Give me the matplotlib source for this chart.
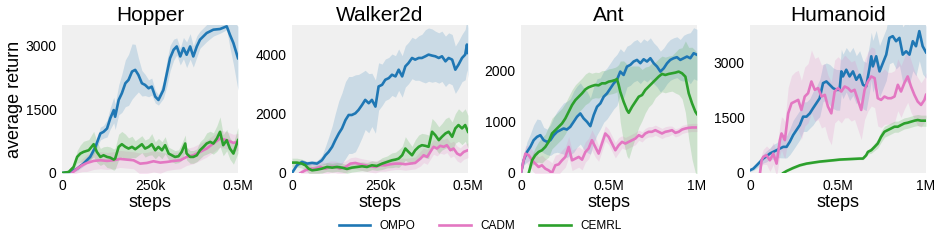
import numpy as np
import matplotlib
matplotlib.use("Agg")
import matplotlib.pyplot as plt

plt.rcParams['font.family'] = ['Liberation Sans', 'DejaVu Sans']

methods = ["OMPO", "CADM", "CEMRL"]
colors = {"OMPO": "#1f77b4", "CADM": "#e377c2", "CEMRL": "#2ca02c"}
titles = ["Hopper", "Walker2d", "Ant", "Humanoid"]

# ---------------- Hopper (steps in thousands) ----------------
hop_ompo_x = [0, 24, 43, 61, 80, 95, 109, 118, 128, 137, 147, 151, 161, 170, 180, 189, 199, 208, 217, 227, 236, 246,
              255, 265, 274, 288, 298, 307, 317, 326, 336, 345, 354, 364, 373, 383, 392, 411, 430, 449, 468, 477, 487, 500]
hop_ompo_y = [0, 24, 102, 220, 378, 614, 929, 968, 1047, 1283, 1480, 1323, 1717, 1874, 2110, 2189, 2386, 2425, 2307,
              2110, 2071, 1992, 2031, 1795, 1717, 1953, 2346, 2700, 2897, 2976, 2740, 2937, 2780, 2976, 2740, 2976, 3134,
              3291, 3370, 3386, 3449, 3252, 3055, 2700]
hop_ompo_s = [20, 30, 50, 60, 80, 100, 150, 150, 200, 250, 300, 300, 350, 450, 550, 600, 650, 600, 400, 300, 250, 200,
              200, 150, 120, 200, 300, 300, 250, 200, 200, 250, 300, 300, 250, 250, 200, 200, 150, 100, 80, 300, 500, 750]
hop_cadm_x = [28, 43, 57, 71, 90, 109, 128, 147, 165, 184, 203, 222, 241, 260, 279, 298, 317, 336, 354, 373, 392, 411,
              430, 449, 468, 487, 500]
hop_cadm_y = [0, 102, 181, 236, 284, 300, 284, 300, 331, 315, 300, 220, 236, 276, 244, 260, 284, 300, 378, 417, 496,
              575, 693, 811, 772, 709, 732]
hop_cadm_s = [50, 100, 150, 200, 200, 200, 200, 200, 200, 200, 200, 250, 250, 250, 250, 200, 200, 200, 200, 200, 200,
              200, 200, 200, 200, 200, 200]
hop_cemrl_x = [0, 19, 33, 43, 52, 61, 76, 90, 99, 109, 118, 128, 137, 147, 151, 161, 170, 180, 189, 199, 208, 217, 227,
               236, 246, 255, 265, 274, 284, 293, 303, 312, 321, 331, 340, 350, 354, 364, 373, 383, 392, 402, 411, 421,
               430, 440, 449, 458, 468, 477, 487, 500]
hop_cemrl_y = [0, 24, 142, 378, 457, 496, 535, 677, 496, 378, 417, 378, 362, 315, 339, 614, 677, 614, 575, 614, 559,
               614, 677, 575, 614, 677, 535, 614, 535, 654, 457, 417, 378, 394, 496, 693, 457, 378, 378, 417, 535, 614,
               693, 732, 693, 811, 969, 654, 772, 575, 457, 772]
hop_cemrl_s = [10, 20, 60, 150, 200, 250, 250, 300, 250, 200, 200, 250, 250, 250, 250, 300, 300, 300, 250, 250, 200,
               200, 200, 200, 200, 250, 200, 200, 200, 200, 150, 150, 150, 150, 200, 200, 150, 150, 150, 150, 200, 200,
               250, 250, 250, 300, 350, 250, 250, 250, 250, 300]

# ---------------- Walker2d ----------------
wal_ompo_x = [0, 14, 28, 43, 57, 71, 85, 95, 104, 114, 123, 133, 142, 152, 161, 170, 180, 189, 199, 208, 218, 227, 237,
              246, 256, 265, 275, 284, 294, 303, 313, 322, 331, 341, 350, 360, 369, 379, 388, 398, 407, 417, 426, 436,
              445, 455, 464, 473, 483, 492, 497, 500]
wal_ompo_y = [0, 261, 374, 317, 340, 317, 430, 600, 713, 884, 1110, 1337, 1507, 1790, 1960, 1960, 2017, 2130, 2300,
              2470, 2357, 2470, 2243, 2923, 2980, 3150, 3206, 3320, 3263, 3490, 3263, 3603, 3716, 3886, 3830, 3886,
              3886, 3943, 4000, 3966, 3943, 3886, 3943, 3773, 3886, 3830, 3490, 3660, 3886, 4000, 4340, 4056]
wal_ompo_s = [0, 50, 80, 80, 80, 100, 150, 300, 500, 700, 900, 1100, 1200, 1300, 1300, 1300, 1300, 1200, 1100, 1000,
              1000, 900, 900, 800, 700, 700, 700, 700, 700, 700, 700, 700, 700, 700, 700, 750, 800, 900, 900, 900, 850,
              850, 850, 850, 850, 850, 800, 800, 800, 850, 850, 850]
wal_cadm_x = [24, 38, 52, 66, 80, 95, 109, 123, 137, 152, 166, 180, 194, 208, 223, 237, 251, 265, 279, 294, 308, 322,
              336, 350, 365, 374, 384, 393, 402, 412, 421, 431, 440, 450, 459, 469, 478, 488, 500]
wal_cadm_y = [0, 91, 147, 147, 204, 147, 204, 204, 147, 204, 317, 340, 295, 261, 227, 204, 261, 261, 295, 317, 317,
              295, 317, 340, 487, 600, 544, 714, 884, 827, 918, 884, 940, 770, 827, 657, 600, 714, 770]
wal_cadm_s = [100, 150, 200, 200, 200, 200, 200, 200, 200, 200, 200, 200, 200, 200, 200, 200, 200, 200, 200, 200, 200,
              200, 200, 200, 250, 250, 250, 250, 250, 250, 250, 250, 250, 250, 250, 250, 250, 250, 250]
wal_cemrl_x = [0, 14, 28, 38, 47, 57, 71, 85, 99, 114, 128, 142, 156, 170, 185, 199, 213, 227, 241, 256, 270, 284, 294,
               303, 313, 322, 331, 341, 350, 360, 369, 379, 388, 398, 407, 417, 426, 436, 445, 455, 464, 473, 483, 492,
               500]
wal_cemrl_y = [351, 351, 317, 261, 147, 91, 113, 147, 204, 181, 204, 181, 136, 181, 204, 227, 204, 261, 238, 317, 374,
               430, 453, 487, 600, 827, 714, 600, 770, 884, 940, 918, 884, 1394, 1280, 1110, 1224, 1337, 1394, 1224,
               1507, 1620, 1507, 1620, 1394]
wal_cemrl_s = [150, 150, 150, 150, 150, 150, 150, 150, 150, 150, 150, 150, 150, 150, 150, 150, 150, 150, 150, 200, 200,
               250, 250, 300, 300, 400, 350, 300, 350, 400, 400, 400, 400, 450, 450, 450, 450, 500, 500, 500, 500, 550,
               550, 550, 550]

# ---------------- Ant ----------------
ant_ompo_x = [0, 15, 34, 53, 72, 91, 110, 129, 148, 167, 186, 205, 223, 242, 261, 280, 299, 318, 337, 356, 375, 394,
              413, 432, 451, 470, 489, 508, 527, 545, 564, 583, 602, 621, 640, 659, 678, 697, 716, 735, 754, 773, 792,
              811, 830, 848, 867, 886, 905, 924, 943, 962, 981, 1000]
ant_ompo_y = [0, 249, 413, 511, 643, 708, 741, 643, 610, 643, 741, 807, 839, 872, 852, 905, 1003, 1102, 1167, 1069,
              1003, 918, 1134, 1298, 1364, 1495, 1561, 1659, 1757, 1823, 1987, 1921, 2085, 2118, 2184, 2216, 2151, 2229,
              2184, 2249, 2151, 2085, 1987, 2052, 2151, 2216, 2249, 2269, 2216, 2249, 2282, 2249, 2347, 2315]
ant_ompo_s = [0, 100, 200, 250, 300, 350, 300, 250, 250, 300, 350, 400, 450, 500, 550, 550, 600, 600, 600, 600, 600,
              550, 550, 550, 500, 500, 500, 500, 500, 500, 450, 450, 400, 400, 400, 400, 400, 400, 400, 400, 400, 400,
              400, 400, 400, 400, 400, 400, 400, 450, 450, 500, 500, 500]
ant_cadm_x = [0, 15, 25, 44, 63, 81, 100, 119, 138, 157, 176, 195, 214, 233, 252, 271, 290, 309, 328, 347, 366, 384,
              403, 422, 441, 460, 479, 498, 517, 536, 555, 574, 593, 612, 631, 650, 669, 688, 706, 725, 744, 763, 782,
              801, 820, 839, 858, 877, 896, 915, 934, 953, 972, 1000]
ant_cadm_y = [0, 249, 380, 348, 249, 184, 118, 151, 85, 52, 0, 151, 170, 249, 315, 511, 249, 282, 315, 262, 413, 479,
              643, 511, 380, 577, 774, 708, 577, 446, 544, 610, 577, 610, 643, 675, 741, 708, 774, 807, 807, 839, 807,
              774, 807, 820, 839, 787, 807, 852, 872, 885, 892, 892]
ant_cadm_s = [0, 100, 150, 200, 200, 200, 200, 200, 200, 200, 200, 200, 200, 200, 200, 200, 200, 200, 200, 200, 200,
              200, 200, 200, 150, 150, 150, 150, 150, 150, 150, 120, 120, 120, 120, 120, 100, 100, 100, 100, 100, 100,
              100, 100, 100, 100, 80, 80, 80, 80, 80, 80, 80, 80]
ant_cemrl_x = [44, 63, 81, 100, 119, 138, 157, 176, 195, 214, 233, 252, 271, 290, 309, 328, 347, 366, 384, 403, 422,
               441, 460, 479, 498, 517, 536, 545, 555, 564, 583, 602, 612, 631, 650, 669, 688, 706, 725, 744, 763, 782,
               801, 820, 839, 858, 877, 896, 915, 934, 953, 972, 991, 1000]
ant_cemrl_y = [0, 249, 348, 413, 446, 511, 610, 774, 839, 905, 970, 1069, 1200, 1331, 1429, 1495, 1561, 1639, 1679,
               1705, 1725, 1718, 1757, 1757, 1790, 1803, 1823, 1842, 1725, 1593, 1397, 1233, 1180, 1298, 1397, 1495,
               1528, 1626, 1692, 1757, 1823, 1888, 1941, 1921, 1941, 1954, 1967, 1987, 1954, 1888, 1561, 1364, 1200,
               1154]
ant_cemrl_s = [0, 100, 150, 200, 250, 250, 300, 300, 300, 300, 300, 300, 300, 300, 300, 300, 300, 300, 300, 250, 250,
               250, 250, 250, 250, 250, 250, 250, 400, 600, 800, 900, 900, 800, 700, 600, 500, 450, 400, 400, 350, 350,
               350, 350, 350, 350, 400, 450, 500, 700, 900, 1100, 1200, 1200]

# ---------------- Humanoid ----------------
hum_ompo_x = [0, 19, 38, 57, 75, 94, 113, 132, 151, 170, 189, 208, 226, 245, 264, 283, 302, 321, 340, 358, 377, 396,
              415, 434, 453, 472, 491, 509, 519, 528, 547, 566, 585, 604, 623, 642, 660, 679, 689, 698, 717, 736, 755,
              774, 792, 811, 830, 849, 868, 887, 906, 925, 943, 962, 981, 1000]
hum_ompo_y = [73, 118, 208, 299, 390, 453, 526, 571, 616, 662, 707, 707, 843, 1024, 1160, 1296, 1523, 1523, 1613, 1749,
              1885, 2021, 2429, 2474, 2384, 2293, 2248, 2248, 2746, 2610, 2791, 2610, 2746, 2520, 2655, 2384, 2338,
              2837, 3154, 2882, 3154, 2746, 2973, 3199, 3652, 3698, 3562, 3652, 3199, 3290, 3199, 3562, 3426, 3834,
              3426, 3263]
hum_ompo_s = [30, 50, 80, 100, 120, 150, 150, 200, 200, 250, 300, 300, 350, 400, 400, 400, 400, 400, 400, 450, 450, 500,
              500, 500, 550, 550, 550, 550, 600, 600, 600, 650, 650, 650, 650, 650, 650, 650, 650, 700, 700, 700, 700,
              700, 700, 700, 750, 750, 750, 800, 800, 800, 800, 800, 750, 700]
hum_cadm_x = [57, 66, 75, 94, 113, 123, 132, 151, 170, 179, 189, 198, 217, 236, 255, 274, 292, 311, 330, 349, 368, 387,
              406, 425, 443, 462, 481, 500, 519, 538, 557, 575, 594, 613, 632, 651, 670, 689, 708, 726, 745, 764, 783,
              802, 821, 840, 858, 877, 896, 915, 934, 953, 972, 991, 1000]
hum_cadm_y = [0, 344, 435, 480, 344, 435, 526, 254, 888, 1069, 979, 888, 1613, 1885, 1930, 1976, 1704, 2066, 2157,
              2474, 2248, 2293, 2066, 2112, 1794, 1613, 2202, 2293, 2202, 2338, 2293, 2202, 2248, 1976, 1704, 2248,
              2474, 2610, 2565, 2021, 1976, 2066, 2021, 2021, 2066, 2384, 2202, 2429, 2610, 2338, 2112, 1930, 1840,
              1976, 2112]
hum_cadm_s = [0, 150, 200, 250, 300, 300, 300, 350, 400, 450, 500, 500, 700, 750, 800, 800, 800, 800, 800, 850, 850,
              850, 850, 850, 850, 850, 850, 850, 850, 850, 800, 800, 800, 800, 800, 800, 800, 800, 800, 750, 750, 750,
              700, 700, 700, 700, 700, 700, 700, 700, 650, 650, 600, 600, 600]
hum_cemrl_x = [189, 208, 245, 283, 321, 358, 396, 434, 472, 509, 547, 585, 623, 642, 660, 670, 689, 708, 726, 745, 764,
               783, 802, 821, 840, 858, 877, 896, 915, 934, 953, 972, 1000]
hum_cemrl_y = [0, 54, 136, 208, 254, 281, 308, 326, 344, 363, 372, 381, 390, 390, 480, 571, 616, 707, 798, 979, 1115,
               1160, 1205, 1251, 1251, 1296, 1341, 1359, 1387, 1414, 1432, 1414, 1414]
hum_cemrl_s = [0, 20, 30, 30, 30, 30, 30, 30, 30, 30, 30, 30, 30, 30, 40, 60, 80, 100, 120, 150, 150, 150, 150, 150,
               150, 150, 150, 150, 150, 150, 150, 150, 150]

# per-panel settings
ylims = [3480, 5000, 2900, 4000]
yticks = [[0, 1500, 3000], [0, 2000, 4000], [0, 1000, 2000], [0, 1500, 3000]]
xmax = [500, 500, 1000, 1000]
xticks = [[0, 250, 500], [0, 250, 500], [0, 500, 1000], [0, 500, 1000]]
xticklabels = [["0", "250k", "0.5M"], ["0", "250k", "0.5M"], ["0", "0.5M", "1M"], ["0", "0.5M", "1M"]]

data = [
    {"OMPO": (hop_ompo_x, hop_ompo_y, hop_ompo_s), "CADM": (hop_cadm_x, hop_cadm_y, hop_cadm_s),
     "CEMRL": (hop_cemrl_x, hop_cemrl_y, hop_cemrl_s)},
    {"OMPO": (wal_ompo_x, wal_ompo_y, wal_ompo_s), "CADM": (wal_cadm_x, wal_cadm_y, wal_cadm_s),
     "CEMRL": (wal_cemrl_x, wal_cemrl_y, wal_cemrl_s)},
    {"OMPO": (ant_ompo_x, ant_ompo_y, ant_ompo_s), "CADM": (ant_cadm_x, ant_cadm_y, ant_cadm_s),
     "CEMRL": (ant_cemrl_x, ant_cemrl_y, ant_cemrl_s)},
    {"OMPO": (hum_ompo_x, hum_ompo_y, hum_ompo_s), "CADM": (hum_cadm_x, hum_cadm_y, hum_cadm_s),
     "CEMRL": (hum_cemrl_x, hum_cemrl_y, hum_cemrl_s)},
]

fig = plt.figure(figsize=(9.42, 2.43), dpi=100)
lefts = [62, 292, 521, 750]
handles = {}
for i, left in enumerate(lefts):
    ax = fig.add_axes([left / 942, 70 / 243, 176 / 942, 148 / 243])
    ax.set_facecolor("#f0f0f0")
    for m in methods:
        x, y, s = data[i][m]
        x = np.array(x)
        y = np.array(y, dtype=float)
        s = np.array(s, dtype=float)
        ax.fill_between(x, y - s, y + s, color=colors[m], alpha=0.18, lw=0)
        ln, = ax.plot(x, y, color=colors[m], lw=1.9, label=m)
        handles[m] = ln
    ax.set_xlim(0, xmax[i])
    ax.set_ylim(0, ylims[i])
    ax.set_xticks(xticks[i])
    ax.set_xticklabels(xticklabels[i])
    ax.set_yticks(yticks[i])
    ax.tick_params(length=0, labelsize=10, pad=4)
    for sp in ax.spines.values():
        sp.set_visible(False)
    ax.set_title(titles[i], fontsize=15, pad=3)
    ax.set_xlabel("steps", fontsize=13, labelpad=1)
    if i == 0:
        ax.set_ylabel("average return", fontsize=13, labelpad=2)

fig.legend([handles[m] for m in methods], methods, loc="center", bbox_to_anchor=(480 / 942, 1 - 226 / 243),
           ncol=3, frameon=False, fontsize=8.5, handlelength=2.7, handletextpad=0.8, columnspacing=2.0)

fig.savefig("out.png", dpi=100)
